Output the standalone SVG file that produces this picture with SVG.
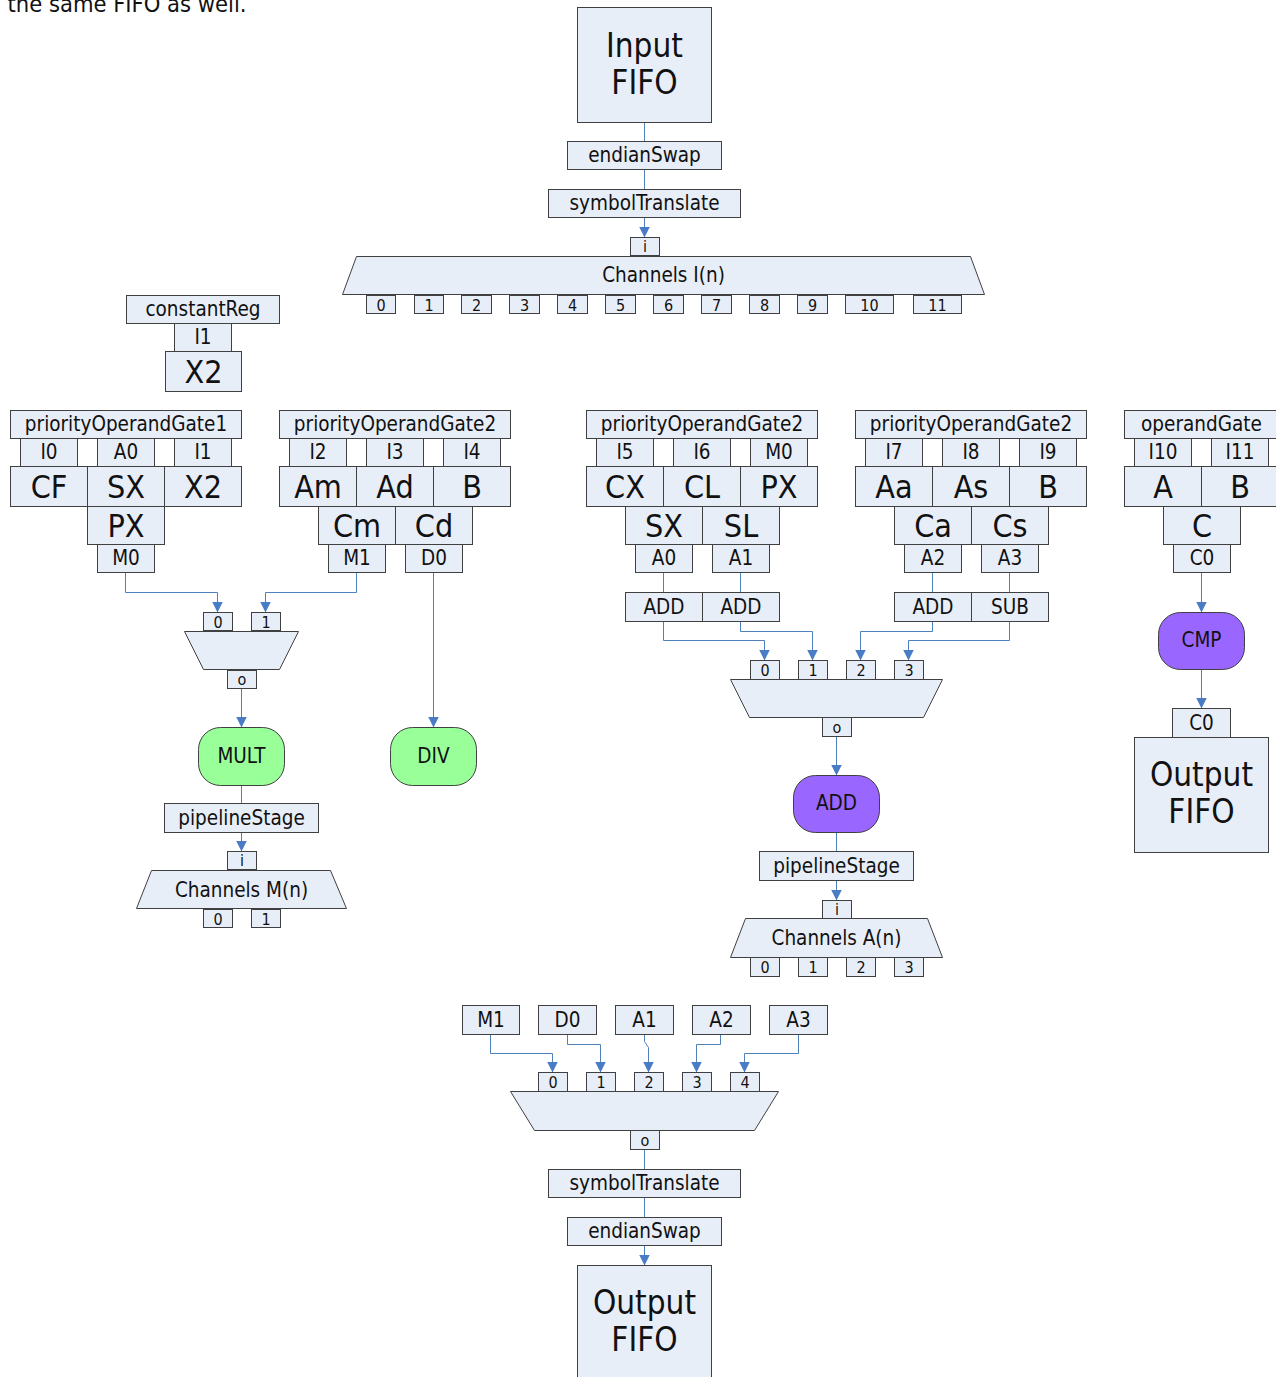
<svg xmlns="http://www.w3.org/2000/svg" width="1276" height="1377" viewBox="0 0 1276 1377">
  <defs>
    <style>
      .b { fill: #E8EEF8; stroke: #404040; stroke-width: 1; }
      .g { fill: #99FF99; stroke: #404040; stroke-width: 1; }
      .p { fill: #9966FF; stroke: #404040; stroke-width: 1; }
      text { font-family: "DejaVu Sans Condensed", "DejaVu Sans", "Liberation Sans", sans-serif; font-stretch: condensed; fill: #111; text-anchor: middle; }
      .s16 { font-size: 16px; }
      .s20 { font-size: 20.5px; }
      .s30 { font-size: 32px; }
      .s33 { font-size: 33px; }
      .c { fill: none; stroke: #4F81BD; stroke-width: 1; }
      .ca { fill: none; stroke: #4F81BD; stroke-width: 1; marker-end: url(#arr); }
    </style>
    <marker id="arr" viewBox="0 0 10 10" refX="10" refY="5" markerWidth="11" markerHeight="11" markerUnits="userSpaceOnUse" orient="auto">
      <path d="M0,0 L10,5 L0,10 z" fill="#4A7CC6"/>
    </marker>
  </defs>
  <rect x="0" y="0" width="1276" height="1377" fill="#FFFFFF"/>

  <g transform="translate(0.5 0.5)">
    <text x="7" y="11" style="font-size:23.5px;text-anchor:start">the same FIFO as well.</text>

    <!-- connectors -->
    <g id="connectors">
      <path class="c" d="M644,122 V141"/>
      <path class="c" d="M644,169 V189"/>
      <path class="ca" d="M644,217 V237"/>
      <path class="ca" d="M125,572 V592 H217 V612"/>
      <path class="ca" d="M356,572 V592 H265 V612"/>
      <path class="ca" d="M433,572 V727"/>
      <path class="ca" d="M241,688 V727"/>
      <path class="c" d="M241,785 V803"/>
      <path class="ca" d="M241,832 V851"/>
      <path class="c" d="M663,572 V592"/>
      <path class="c" d="M740,572 V592"/>
      <path class="c" d="M932,572 V592"/>
      <path class="c" d="M1009,572 V592"/>
      <path class="ca" d="M663,621 V640 H764 V660"/>
      <path class="ca" d="M740,621 V631 H812 V660"/>
      <path class="ca" d="M932,621 V631 H860 V660"/>
      <path class="ca" d="M1009,621 V640 H908 V660"/>
      <path class="ca" d="M836,736 V775"/>
      <path class="c" d="M836,832 V851"/>
      <path class="ca" d="M836,880 V900"/>
      <path class="ca" d="M1201,572 V612"/>
      <path class="ca" d="M1201,669 V708"/>
      <path class="ca" d="M490,1034 V1053 H552 V1072"/>
      <path class="ca" d="M567,1034 V1044 H600 V1072"/>
      <path class="ca" d="M644,1034 V1041 L648,1047 V1072"/>
      <path class="ca" d="M720,1034 V1044 H696 V1072"/>
      <path class="ca" d="M798,1034 V1053 H744 V1072"/>
      <path class="c" d="M644,1149 V1169"/>
      <path class="c" d="M644,1197 V1217"/>
      <path class="ca" d="M644,1245 V1265"/>
    </g>

    <!-- input chain -->
    <g id="inputFifo">
      <rect class="b" x="577" y="7" width="134" height="115"/>
      <text class="s33" x="644" y="56">Input</text>
      <text class="s33" x="644" y="93">FIFO</text>
    </g>
    <g id="endianSwapIn">
      <rect class="b" x="567" y="141" width="154" height="28"/>
      <text class="s20" x="644" y="161">endianSwap</text>
    </g>
    <g id="symbolTranslateIn">
      <rect class="b" x="548" y="189" width="192" height="28"/>
      <text class="s20" x="644" y="209">symbolTranslate</text>
    </g>
    <g id="channelsI">
      <rect class="b" x="630" y="237" width="29" height="18"/>
      <text class="s16" x="644.5" y="251">i</text>
      <polygon class="b" points="356,256 970,256 984,294 342,294"/>
      <text class="s20" x="663" y="281">Channels I(n)</text>
      <rect class="b" x="366" y="295" width="29" height="18"/><text class="s16" x="380.5" y="310">0</text>
      <rect class="b" x="414" y="295" width="29" height="18"/><text class="s16" x="428.5" y="310">1</text>
      <rect class="b" x="461" y="295" width="30" height="18"/><text class="s16" x="476" y="310">2</text>
      <rect class="b" x="509" y="295" width="30" height="18"/><text class="s16" x="524" y="310">3</text>
      <rect class="b" x="557" y="295" width="30" height="18"/><text class="s16" x="572" y="310">4</text>
      <rect class="b" x="605" y="295" width="30" height="18"/><text class="s16" x="620" y="310">5</text>
      <rect class="b" x="653" y="295" width="30" height="18"/><text class="s16" x="668" y="310">6</text>
      <rect class="b" x="701" y="295" width="30" height="18"/><text class="s16" x="716" y="310">7</text>
      <rect class="b" x="749" y="295" width="30" height="18"/><text class="s16" x="764" y="310">8</text>
      <rect class="b" x="797" y="295" width="30" height="18"/><text class="s16" x="812" y="310">9</text>
      <rect class="b" x="845" y="295" width="48" height="18"/><text class="s16" x="869" y="310">10</text>
      <rect class="b" x="913" y="295" width="48" height="18"/><text class="s16" x="937" y="310">11</text>
    </g>

    <!-- constant register -->
    <g id="constantReg">
      <rect class="b" x="126" y="295" width="153" height="28"/>
      <text class="s20" x="202.5" y="315">constantReg</text>
      <rect class="b" x="174" y="323" width="57" height="28"/>
      <text class="s20" x="202.5" y="343">I1</text>
      <rect class="b" x="165" y="351" width="76" height="40"/>
      <text class="s30" x="203" y="382">X2</text>
    </g>

    <!-- operand gates -->
    <g id="gate1">
      <rect class="b" x="10" y="410" width="231" height="28"/>
      <text class="s20" x="125.5" y="430">priorityOperandGate1</text>
      <rect class="b" x="20" y="438" width="57" height="28"/><text class="s20" x="48.5" y="458">I0</text>
      <rect class="b" x="97" y="438" width="57" height="28"/><text class="s20" x="125.5" y="458">A0</text>
      <rect class="b" x="174" y="438" width="57" height="28"/><text class="s20" x="202.5" y="458">I1</text>
      <rect class="b" x="10" y="466" width="77" height="40"/><text class="s30" x="48.5" y="497">CF</text>
      <rect class="b" x="87" y="466" width="77" height="40"/><text class="s30" x="125.5" y="497">SX</text>
      <rect class="b" x="164" y="466" width="77" height="40"/><text class="s30" x="202.5" y="497">X2</text>
      <rect class="b" x="87" y="506" width="77" height="38"/><text class="s30" x="125.5" y="536">PX</text>
      <rect class="b" x="97" y="544" width="57" height="28"/><text class="s20" x="125.5" y="564">M0</text>
    </g>
    <g id="gate2a">
      <rect class="b" x="279" y="410" width="231" height="28"/>
      <text class="s20" x="394.5" y="430">priorityOperandGate2</text>
      <rect class="b" x="289" y="438" width="57" height="28"/><text class="s20" x="317.5" y="458">I2</text>
      <rect class="b" x="366" y="438" width="57" height="28"/><text class="s20" x="394.5" y="458">I3</text>
      <rect class="b" x="443" y="438" width="57" height="28"/><text class="s20" x="471.5" y="458">I4</text>
      <rect class="b" x="279" y="466" width="77" height="40"/><text class="s30" x="317.5" y="497">Am</text>
      <rect class="b" x="356" y="466" width="77" height="40"/><text class="s30" x="394.5" y="497">Ad</text>
      <rect class="b" x="433" y="466" width="77" height="40"/><text class="s30" x="471.5" y="497">B</text>
      <rect class="b" x="318" y="506" width="77" height="38"/><text class="s30" x="356.5" y="536">Cm</text>
      <rect class="b" x="395" y="506" width="77" height="38"/><text class="s30" x="433.5" y="536">Cd</text>
      <rect class="b" x="328" y="544" width="57" height="28"/><text class="s20" x="356.5" y="564">M1</text>
      <rect class="b" x="405" y="544" width="57" height="28"/><text class="s20" x="433.5" y="564">D0</text>
    </g>
    <g id="gate2b">
      <rect class="b" x="586" y="410" width="231" height="28"/>
      <text class="s20" x="701.5" y="430">priorityOperandGate2</text>
      <rect class="b" x="596" y="438" width="57" height="28"/><text class="s20" x="624.5" y="458">I5</text>
      <rect class="b" x="673" y="438" width="57" height="28"/><text class="s20" x="701.5" y="458">I6</text>
      <rect class="b" x="750" y="438" width="57" height="28"/><text class="s20" x="778.5" y="458">M0</text>
      <rect class="b" x="586" y="466" width="77" height="40"/><text class="s30" x="624.5" y="497">CX</text>
      <rect class="b" x="663" y="466" width="77" height="40"/><text class="s30" x="701.5" y="497">CL</text>
      <rect class="b" x="740" y="466" width="77" height="40"/><text class="s30" x="778.5" y="497">PX</text>
      <rect class="b" x="625" y="506" width="77" height="38"/><text class="s30" x="663.5" y="536">SX</text>
      <rect class="b" x="702" y="506" width="77" height="38"/><text class="s30" x="740.5" y="536">SL</text>
      <rect class="b" x="635" y="544" width="57" height="28"/><text class="s20" x="663.5" y="564">A0</text>
      <rect class="b" x="712" y="544" width="57" height="28"/><text class="s20" x="740.5" y="564">A1</text>
    </g>
    <g id="gate2c">
      <rect class="b" x="855" y="410" width="231" height="28"/>
      <text class="s20" x="970.5" y="430">priorityOperandGate2</text>
      <rect class="b" x="865" y="438" width="57" height="28"/><text class="s20" x="893.5" y="458">I7</text>
      <rect class="b" x="942" y="438" width="57" height="28"/><text class="s20" x="970.5" y="458">I8</text>
      <rect class="b" x="1019" y="438" width="57" height="28"/><text class="s20" x="1047.5" y="458">I9</text>
      <rect class="b" x="855" y="466" width="77" height="40"/><text class="s30" x="893.5" y="497">Aa</text>
      <rect class="b" x="932" y="466" width="77" height="40"/><text class="s30" x="970.5" y="497">As</text>
      <rect class="b" x="1009" y="466" width="77" height="40"/><text class="s30" x="1047.5" y="497">B</text>
      <rect class="b" x="894" y="506" width="77" height="38"/><text class="s30" x="932.5" y="536">Ca</text>
      <rect class="b" x="971" y="506" width="77" height="38"/><text class="s30" x="1009.5" y="536">Cs</text>
      <rect class="b" x="904" y="544" width="57" height="28"/><text class="s20" x="932.5" y="564">A2</text>
      <rect class="b" x="981" y="544" width="57" height="28"/><text class="s20" x="1009.5" y="564">A3</text>
    </g>
    <g id="operandGate">
      <rect class="b" x="1124" y="410" width="154" height="28"/>
      <text class="s20" x="1201" y="430">operandGate</text>
      <rect class="b" x="1134" y="438" width="57" height="28"/><text class="s20" x="1162.5" y="458">I10</text>
      <rect class="b" x="1211" y="438" width="57" height="28"/><text class="s20" x="1239.5" y="458">I11</text>
      <rect class="b" x="1124" y="466" width="77" height="40"/><text class="s30" x="1162.5" y="497">A</text>
      <rect class="b" x="1201" y="466" width="77" height="40"/><text class="s30" x="1239.5" y="497">B</text>
      <rect class="b" x="1163" y="506" width="77" height="38"/><text class="s30" x="1201.5" y="536">C</text>
      <rect class="b" x="1173" y="544" width="57" height="28"/><text class="s20" x="1201.5" y="564">C0</text>
    </g>

    <!-- multiply / divide path -->
    <g id="muxM">
      <rect class="b" x="203" y="612" width="29" height="18"/><text class="s16" x="217.5" y="627">0</text>
      <rect class="b" x="251" y="612" width="29" height="18"/><text class="s16" x="265.5" y="627">1</text>
      <polygon class="b" points="184,631 298,631 279,669 203,669"/>
      <rect class="b" x="227" y="670" width="29" height="18"/><text class="s16" x="241.5" y="684">o</text>
    </g>
    <g id="mult">
      <rect class="g" x="198" y="727" width="86" height="58" rx="22" ry="22"/>
      <text class="s20" x="241" y="762">MULT</text>
    </g>
    <g id="div">
      <rect class="g" x="390" y="727" width="86" height="58" rx="22" ry="22"/>
      <text class="s20" x="433" y="762">DIV</text>
    </g>
    <g id="pipelineStageM">
      <rect class="b" x="164" y="803" width="154" height="29"/>
      <text class="s20" x="241" y="824">pipelineStage</text>
    </g>
    <g id="channelsM">
      <rect class="b" x="227" y="851" width="29" height="18"/><text class="s16" x="241.5" y="865">i</text>
      <polygon class="b" points="151,870 330,870 346,908 136,908"/>
      <text class="s20" x="241" y="896">Channels M(n)</text>
      <rect class="b" x="203" y="909" width="29" height="18"/><text class="s16" x="217.5" y="924">0</text>
      <rect class="b" x="251" y="909" width="29" height="18"/><text class="s16" x="265.5" y="924">1</text>
    </g>

    <!-- add / subtract path -->
    <g id="opsA">
      <rect class="b" x="625" y="592" width="77" height="29"/><text class="s20" x="663.5" y="613">ADD</text>
      <rect class="b" x="702" y="592" width="77" height="29"/><text class="s20" x="740.5" y="613">ADD</text>
    </g>
    <g id="opsB">
      <rect class="b" x="894" y="592" width="77" height="29"/><text class="s20" x="932.5" y="613">ADD</text>
      <rect class="b" x="971" y="592" width="77" height="29"/><text class="s20" x="1009.5" y="613">SUB</text>
    </g>
    <g id="muxA">
      <rect class="b" x="750" y="660" width="29" height="19"/><text class="s16" x="764.5" y="675">0</text>
      <rect class="b" x="798" y="660" width="29" height="19"/><text class="s16" x="812.5" y="675">1</text>
      <rect class="b" x="846" y="660" width="29" height="19"/><text class="s16" x="860.5" y="675">2</text>
      <rect class="b" x="894" y="660" width="29" height="19"/><text class="s16" x="908.5" y="675">3</text>
      <polygon class="b" points="730,679 942,679 923,717 749,717"/>
      <rect class="b" x="822" y="717" width="29" height="19"/><text class="s16" x="836.5" y="732">o</text>
    </g>
    <g id="add">
      <rect class="p" x="793" y="775" width="86" height="57" rx="22" ry="22"/>
      <text class="s20" x="836" y="809">ADD</text>
    </g>
    <g id="pipelineStageA">
      <rect class="b" x="759" y="851" width="154" height="29"/>
      <text class="s20" x="836" y="872">pipelineStage</text>
    </g>
    <g id="channelsA">
      <rect class="b" x="822" y="900" width="29" height="18"/><text class="s16" x="836.5" y="914">i</text>
      <polygon class="b" points="745,918 927,918 942,957 730,957"/>
      <text class="s20" x="836" y="944">Channels A(n)</text>
      <rect class="b" x="750" y="957" width="29" height="19"/><text class="s16" x="764.5" y="972">0</text>
      <rect class="b" x="798" y="957" width="29" height="19"/><text class="s16" x="812.5" y="972">1</text>
      <rect class="b" x="846" y="957" width="29" height="19"/><text class="s16" x="860.5" y="972">2</text>
      <rect class="b" x="894" y="957" width="29" height="19"/><text class="s16" x="908.5" y="972">3</text>
    </g>

    <!-- compare path -->
    <g id="cmp">
      <rect class="p" x="1158" y="612" width="86" height="57" rx="22" ry="22"/>
      <text class="s20" x="1201" y="646">CMP</text>
    </g>
    <g id="outputFifoC">
      <rect class="b" x="1172" y="708" width="58" height="29"/>
      <text class="s20" x="1201" y="729">C0</text>
      <rect class="b" x="1134" y="737" width="134" height="115"/>
      <text class="s33" x="1201" y="785">Output</text>
      <text class="s33" x="1201" y="822">FIFO</text>
    </g>

    <!-- output chain -->
    <g id="results">
      <rect class="b" x="462" y="1005" width="57" height="29"/><text class="s20" x="490.5" y="1026">M1</text>
      <rect class="b" x="538" y="1005" width="58" height="29"/><text class="s20" x="567" y="1026">D0</text>
      <rect class="b" x="615" y="1005" width="58" height="29"/><text class="s20" x="644" y="1026">A1</text>
      <rect class="b" x="692" y="1005" width="58" height="29"/><text class="s20" x="721" y="1026">A2</text>
      <rect class="b" x="769" y="1005" width="58" height="29"/><text class="s20" x="798" y="1026">A3</text>
    </g>
    <g id="muxOut">
      <rect class="b" x="538" y="1072" width="29" height="19"/><text class="s16" x="552.5" y="1087">0</text>
      <rect class="b" x="586" y="1072" width="29" height="19"/><text class="s16" x="600.5" y="1087">1</text>
      <rect class="b" x="634" y="1072" width="29" height="19"/><text class="s16" x="648.5" y="1087">2</text>
      <rect class="b" x="682" y="1072" width="29" height="19"/><text class="s16" x="696.5" y="1087">3</text>
      <rect class="b" x="730" y="1072" width="29" height="19"/><text class="s16" x="744.5" y="1087">4</text>
      <polygon class="b" points="510,1091 778,1091 754,1130 534,1130"/>
      <rect class="b" x="630" y="1130" width="29" height="19"/><text class="s16" x="644.5" y="1145">o</text>
    </g>
    <g id="symbolTranslateOut">
      <rect class="b" x="548" y="1169" width="192" height="28"/>
      <text class="s20" x="644" y="1189">symbolTranslate</text>
    </g>
    <g id="endianSwapOut">
      <rect class="b" x="567" y="1217" width="154" height="28"/>
      <text class="s20" x="644" y="1237">endianSwap</text>
    </g>
    <g id="outputFifo">
      <rect class="b" x="577" y="1265" width="134" height="125"/>
      <text class="s33" x="644" y="1313">Output</text>
      <text class="s33" x="644" y="1350">FIFO</text>
    </g>
  </g>
</svg>
